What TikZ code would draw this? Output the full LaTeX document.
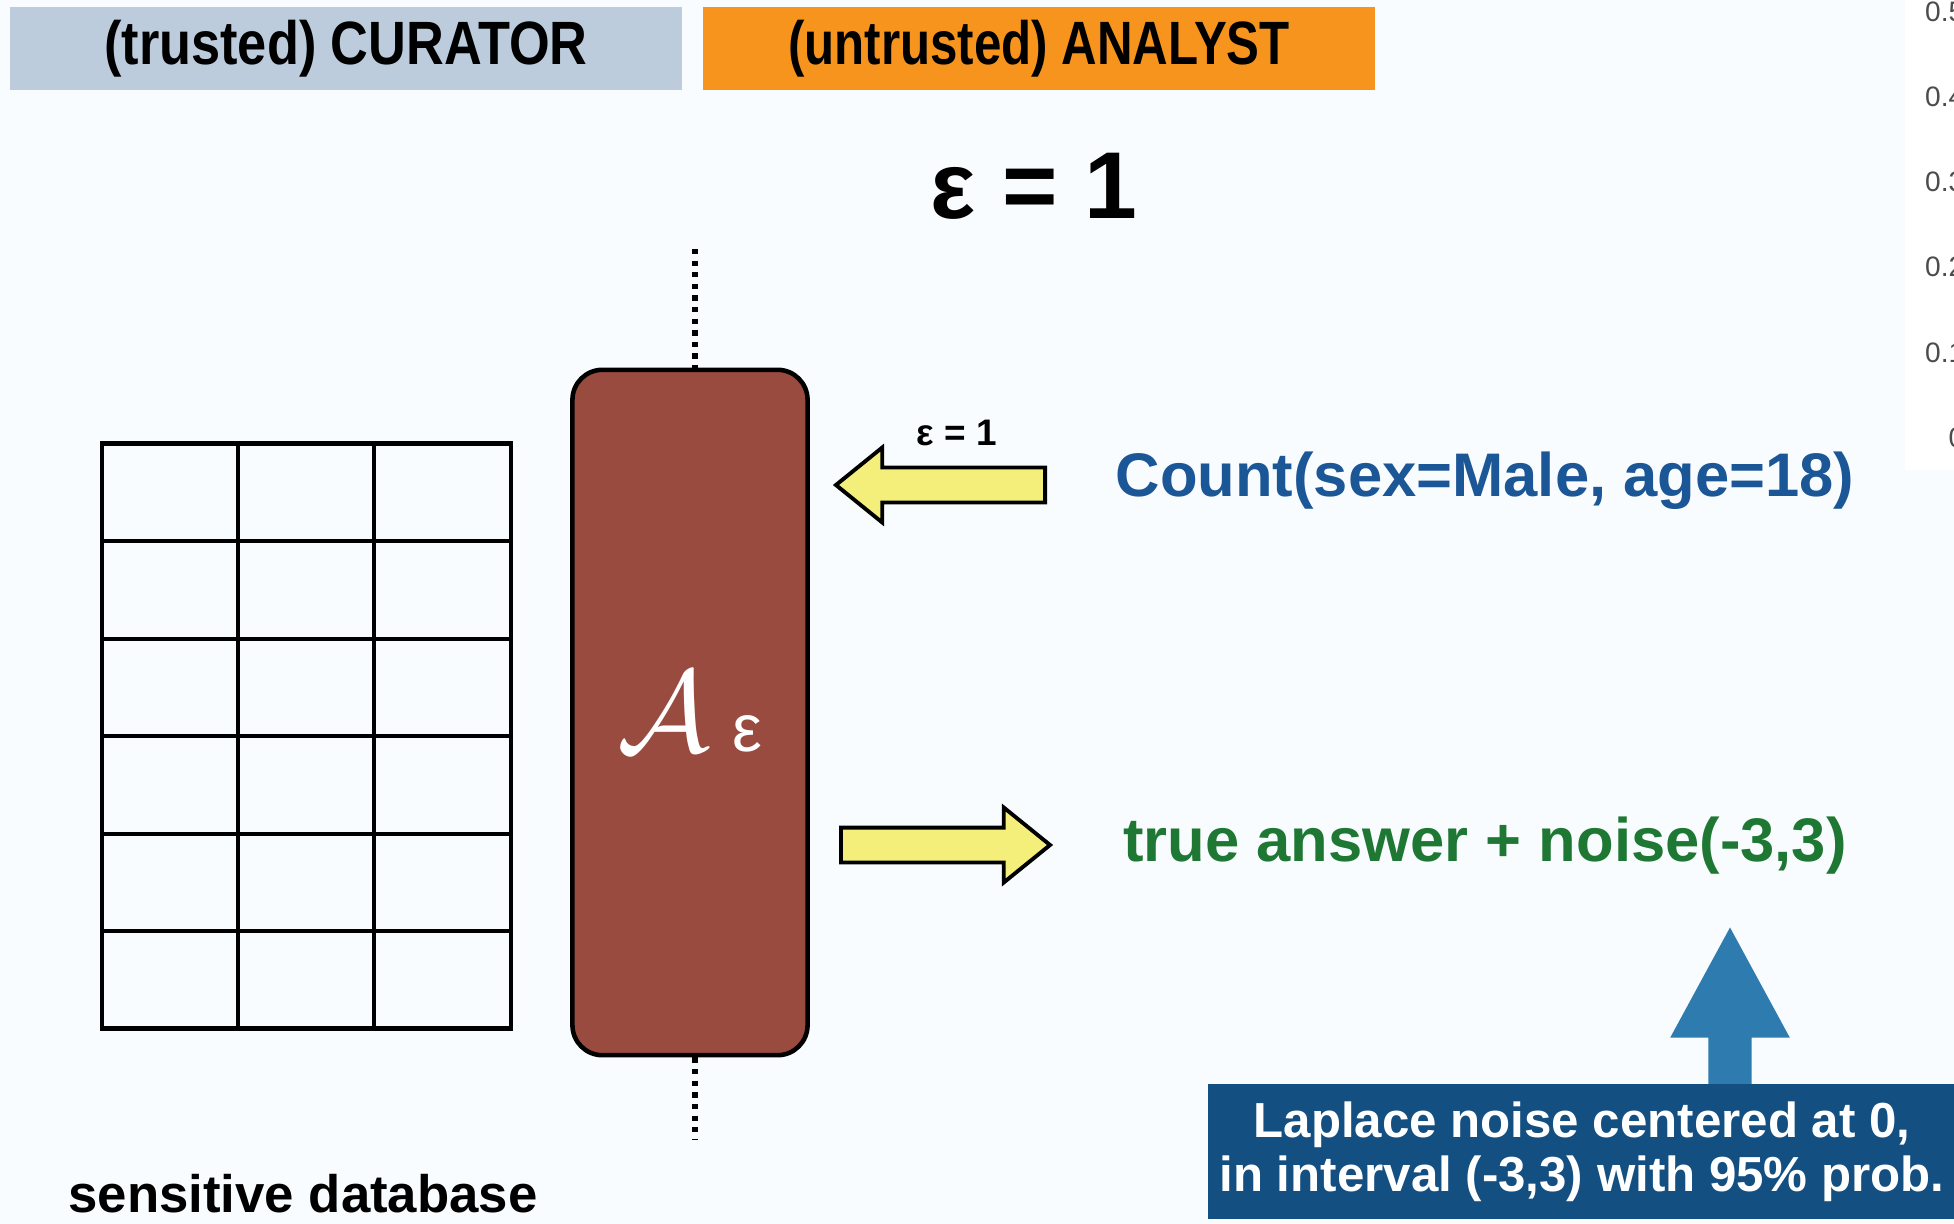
\documentclass[tikz,border=0pt]{standalone}
\usepackage{fontspec}
\setmainfont{Liberation Sans}
\usetikzlibrary{shapes,positioning}
\definecolor{curblue}{RGB}{189,204,221}
\definecolor{anaorange}{RGB}{247,148,29}
\definecolor{mechred}{RGB}{154,75,63}
\definecolor{arryellow}{RGB}{244,238,122}
\definecolor{queryblue}{RGB}{27,86,150}
\definecolor{ansgreen}{RGB}{30,120,52}
\definecolor{noiseblue}{RGB}{20,79,130}
\definecolor{noisearr}{RGB}{46,123,176}
\definecolor{bgwhite}{RGB}{249,252,254}

\begin{document}
\begin{tikzpicture}[x=0.01cm, y=-0.01cm]
\tikzstyle{header}=[rectangle, minimum width=6.71cm, minimum height=0.83cm, inner sep=0pt, font=\fontsize{17.4}{20}\selectfont\bfseries]
\tikzstyle{mechbox}=[rectangle, rounded corners=0.3cm, draw=black, line width=1.3pt, fill=mechred, minimum width=2.35cm, minimum height=6.85cm, text=white]
\tikzstyle{cutline}=[line width=1.5pt, dash pattern=on 1.5pt off 1.8pt]
\tikzstyle{gridline}=[line width=1.35pt]
\tikzstyle{yarrow}=[single arrow, draw=black, line width=1.1pt, fill=arryellow, minimum height=2.09cm, single arrow head extend=0.2cm, single arrow tip angle=78, inner sep=0.155cm, anchor=tail]
\tikzstyle{bigtext}=[font=\fontsize{17.5}{20}\selectfont\bfseries]
\tikzstyle{axislab}=[font=\fontsize{8}{9.6}\selectfont, text=black!70, anchor=east, inner sep=0pt]

  \useasboundingbox (0,0) rectangle (1954,1224);
  \fill[bgwhite] (0,0) rectangle (1954,1224);
  \fill[white] (1905,0) rectangle (1954,470);

  \node[header, fill=curblue]   (cur) at (346,48.5)  {\scalebox{0.855}[1]{(trusted) CURATOR}};
  \node[header, fill=anaorange] (ana) at (1039,48.5) {\scalebox{0.805}[1]{(untrusted) ANALYST}};
  \node[font=\fontsize{27}{30}\selectfont\bfseries] (eps) at (1034,186) {ε = 1};

  \node[draw, gridline, minimum width=4.09cm, minimum height=5.84cm, inner sep=0pt] (db) at (306.5,736) {};
  \foreach \x in {238,374}
    \draw[gridline] (\x,444) -- (\x,1028);
  \foreach \y in {541,639,736,834,931}
    \draw[gridline] (102,\y) -- (511,\y);
  \node[font=\fontsize{15}{18}\selectfont\bfseries] (dbname) at (303,1194) {sensitive database};

  \node[mechbox] (mech) at (690,712.5) {\scalebox{3.3}{$\mathcal{A}$}\hspace{0.22cm}{\fontsize{19}{19}\selectfont ε}};
  \coordinate (cuttop) at (695,249);
  \coordinate (cutbot) at (695,1140);
  \draw[cutline] (cuttop) -- (cuttop |- mech.north);
  \draw[cutline] (cutbot |- mech.south) -- (cutbot);

  \node[yarrow, shape border rotate=180] (askarrow) at (1047,485) {};
  \node[yarrow] (ansarrow) at (839,845) {};
  \node[font=\fontsize{10.5}{12}\selectfont\bfseries] (epsq) at (957,433) {ε = 1};
  \node[bigtext, text=queryblue] (query)  at (1485,481) {Count(sex=Male, age=18)};
  \node[bigtext, text=ansgreen]  (answer) at (1485,846) {true answer + noise(-3,3)};

  \node[single arrow, fill=noisearr, shape border rotate=90, minimum height=1.74cm, anchor=tip,
        single arrow head extend=0.38cm, single arrow tip angle=57, inner sep=0.21cm] (noisearrow) at (1730,926) {};
  \node[rectangle, fill=noiseblue, minimum width=7.44cm, minimum height=1.35cm, text=white, align=center,
        font=\fontsize{14}{15.3}\selectfont\bfseries] (noisebox) at (1582,1151.5)
        {Laplace noise centered at 0,\\ in interval (-3,3) with 95\% prob.};

  \foreach \v/\yy [count=\i] in {0.5/12,0.4/97,0.3/182,0.2/267,0.1/353,0/438}
    \node[axislab] (tick\i) at (1965,\yy) {\v};

\end{tikzpicture}
\end{document}
